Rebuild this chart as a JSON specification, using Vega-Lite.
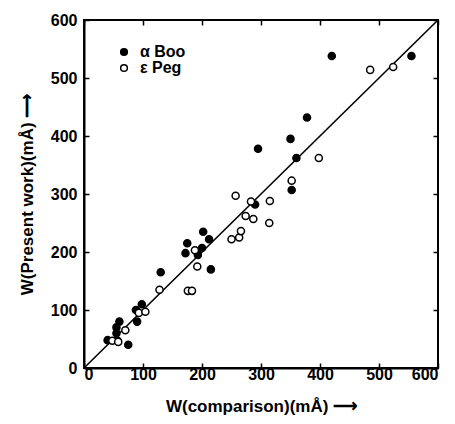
{
  "$schema": "https://vega.github.io/schema/vega-lite/v6.json",
  "width": 354,
  "height": 348,
  "autosize": "none",
  "padding": {"left": 84, "top": 20, "right": 17, "bottom": 56},
  "background": "white",
  "config": {
    "view": {"stroke": "black", "strokeWidth": 2},
    "axis": {
      "domainColor": "black",
      "domainWidth": 2,
      "tickColor": "black",
      "tickWidth": 1.5,
      "tickSize": -5,
      "grid": false,
      "labelFont": "Liberation Sans",
      "labelFontSize": 16,
      "labelFontWeight": "bold",
      "labelColor": "black",
      "titleFont": "Liberation Sans",
      "titleFontSize": 17,
      "titleFontWeight": "bold",
      "titleColor": "black"
    },
    "legend": {
      "labelFont": "Liberation Sans",
      "labelFontSize": 16,
      "labelFontWeight": "bold",
      "labelColor": "black"
    }
  },
  "layer": [
    {
      "data": {"values": [{"a": 0, "b": 0}, {"a": 600, "b": 600}]},
      "mark": {"type": "line", "color": "black", "strokeWidth": 1.6},
      "encoding": {
        "x": {"field": "a", "type": "quantitative", "scale": {"domain": [0, 600], "nice": false},
              "axis": {"orient": "top", "labels": false, "title": null, "domain": false, "values": [0, 100, 200, 300, 400, 500, 600]}},
        "y": {"field": "b", "type": "quantitative", "scale": {"domain": [0, 600], "nice": false},
              "axis": {"orient": "right", "labels": false, "title": null, "domain": false, "values": [0, 100, 200, 300, 400, 500, 600]}}
      }
    },
    {
      "data": {"values": [
        {"star": "α Boo", "comp": 40, "pres": 48},
        {"star": "α Boo", "comp": 55, "pres": 60},
        {"star": "α Boo", "comp": 57, "pres": 47},
        {"star": "α Boo", "comp": 55, "pres": 70},
        {"star": "α Boo", "comp": 60, "pres": 80},
        {"star": "α Boo", "comp": 75, "pres": 40},
        {"star": "α Boo", "comp": 90, "pres": 80},
        {"star": "α Boo", "comp": 88, "pres": 100},
        {"star": "α Boo", "comp": 98, "pres": 110},
        {"star": "α Boo", "comp": 130, "pres": 165},
        {"star": "α Boo", "comp": 172, "pres": 198},
        {"star": "α Boo", "comp": 175, "pres": 215},
        {"star": "α Boo", "comp": 193, "pres": 195},
        {"star": "α Boo", "comp": 200, "pres": 207},
        {"star": "α Boo", "comp": 202, "pres": 235},
        {"star": "α Boo", "comp": 212, "pres": 222},
        {"star": "α Boo", "comp": 215, "pres": 170},
        {"star": "α Boo", "comp": 290, "pres": 282},
        {"star": "α Boo", "comp": 295, "pres": 378},
        {"star": "α Boo", "comp": 350, "pres": 395},
        {"star": "α Boo", "comp": 352, "pres": 307},
        {"star": "α Boo", "comp": 360, "pres": 362},
        {"star": "α Boo", "comp": 378, "pres": 432},
        {"star": "α Boo", "comp": 420, "pres": 538},
        {"star": "α Boo", "comp": 555, "pres": 538},
        {"star": "ε Peg", "comp": 48, "pres": 47},
        {"star": "ε Peg", "comp": 58, "pres": 45},
        {"star": "ε Peg", "comp": 70, "pres": 65},
        {"star": "ε Peg", "comp": 93, "pres": 95},
        {"star": "ε Peg", "comp": 104, "pres": 97},
        {"star": "ε Peg", "comp": 128, "pres": 135},
        {"star": "ε Peg", "comp": 176, "pres": 133},
        {"star": "ε Peg", "comp": 183, "pres": 133},
        {"star": "ε Peg", "comp": 188, "pres": 203},
        {"star": "ε Peg", "comp": 192, "pres": 175},
        {"star": "ε Peg", "comp": 250, "pres": 222},
        {"star": "ε Peg", "comp": 257, "pres": 297},
        {"star": "ε Peg", "comp": 263, "pres": 225},
        {"star": "ε Peg", "comp": 266, "pres": 236},
        {"star": "ε Peg", "comp": 274, "pres": 262},
        {"star": "ε Peg", "comp": 283, "pres": 287},
        {"star": "ε Peg", "comp": 287, "pres": 257},
        {"star": "ε Peg", "comp": 315, "pres": 288},
        {"star": "ε Peg", "comp": 314, "pres": 250},
        {"star": "ε Peg", "comp": 352, "pres": 323},
        {"star": "ε Peg", "comp": 398, "pres": 362},
        {"star": "ε Peg", "comp": 485, "pres": 514},
        {"star": "ε Peg", "comp": 524, "pres": 519}
      ]},
      "mark": {"type": "point", "shape": "circle", "filled": true, "stroke": "black", "strokeWidth": 1.5, "size": 50, "opacity": 1},
      "encoding": {
        "x": {"field": "comp", "type": "quantitative", "scale": {"domain": [0, 600], "nice": false},
              "axis": {"orient": "bottom", "values": [0, 100, 200, 300, 400, 500, 600], "labelPadding": 3, "title": "W(comparison)(mÅ)  ⟶", "titlePadding": 16}},
        "y": {"field": "pres", "type": "quantitative", "scale": {"domain": [0, 600], "nice": false},
              "axis": {"orient": "left", "values": [0, 100, 200, 300, 400, 500, 600], "labelPadding": 12, "title": "W(Present work)(mÅ) ⟶", "titlePadding": 14}},
        "fill": {"field": "star", "type": "nominal",
                 "scale": {"domain": ["α Boo", "ε Peg"], "range": ["black", "white"]},
                 "legend": {"title": null, "orient": "none", "legendX": 32, "legendY": 24, "symbolType": "circle", "symbolSize": 45, "symbolStrokeColor": "black", "symbolStrokeWidth": 1.5, "rowPadding": 0, "labelOffset": 8}}
      }
    }
  ],
  "resolve": {"scale": {"x": "independent", "y": "independent"}}
}
